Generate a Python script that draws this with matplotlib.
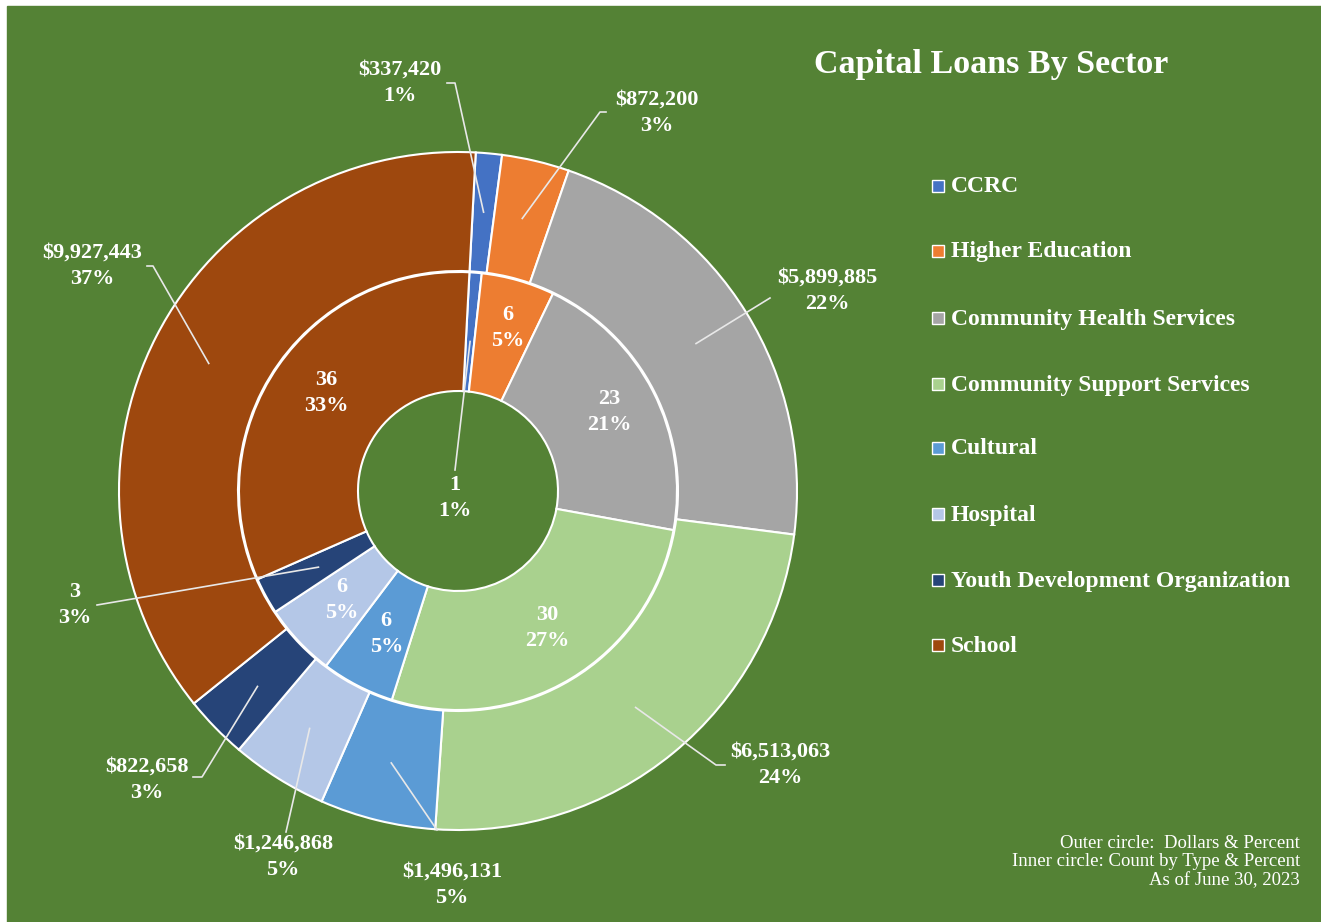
import numpy as np
import matplotlib
matplotlib.use("Agg")
import matplotlib.pyplot as plt
from matplotlib.patches import Rectangle

plt.rcParams['font.family'] = ['Liberation Serif', 'DejaVu Serif']

sectors = ["CCRC", "Higher Education", "Community Health Services",
           "Community Support Services", "Cultural", "Hospital",
           "Youth Development Organization", "School"]
dollars = [337420, 872200, 5899885, 6513063, 1496131, 1246868, 822658, 9927443]
dollar_pct = ["1%", "3%", "22%", "24%", "5%", "5%", "3%", "37%"]
counts = [1, 6, 23, 30, 6, 6, 3, 36]
count_pct = ["1%", "5%", "21%", "27%", "5%", "5%", "3%", "33%"]

colors = ["#4472C4", "#ED7D31", "#A5A5A5", "#A9D18E",
          "#5B9BD5", "#B4C7E7", "#264478", "#9E480E"]
bg = "#548235"

W, H = 1321, 922
cx, cy = 458, 491  # centre in pixel coords (y down)


def Y(y):
    return H - y


fig = plt.figure(figsize=(W / 100, H / 100), dpi=100, facecolor="white")
ax = fig.add_axes([0, 0, 1, 1])
ax.add_patch(Rectangle((7, 0), W - 7, H - 6, color=bg, zorder=0))

r_out, r_mid, r_in = 339, 219, 100
wp = dict(edgecolor="white", linewidth=1.5)
outer, _ = ax.pie(dollars, radius=r_out, center=(cx, Y(cy)), startangle=87,
                  counterclock=False, colors=colors,
                  wedgeprops=dict(width=r_out - r_mid - 1, **wp))
inner, _ = ax.pie(counts, radius=r_mid, center=(cx, Y(cy)), startangle=87,
                  counterclock=False, colors=colors,
                  wedgeprops=dict(width=r_mid - r_in, **wp))
ax.set_xlim(0, W)
ax.set_ylim(0, H)
ax.set_aspect("equal")
ax.axis("off")


def anchor(w, r):
    a = np.deg2rad((w.theta1 + w.theta2) / 2)
    return cx + r * np.cos(a), Y(cy) + r * np.sin(a)


lab = dict(color="white", fontsize=16, fontweight="bold",
           ha="center", va="center", linespacing=1.4)
line = dict(color="#e8e8e8", lw=1.2)

# outer labels: text centre, elbow points (pixel coords)
outer_pos = [(400, 83), (657, 113), (827, 291), (780, 765),
             (452, 885), (283, 857), (147, 780), (92, 266)]
outer_elbow = [[(447, 83), (455, 83)], [(606, 112), (600, 112)],
               [(770, 298)], [(725, 765), (716, 765)],
               [(437, 830)], [(286, 832)],
               [(193, 777), (202, 777)], [(147, 266), (153, 266)]]
for i, w in enumerate(outer):
    tx, ty = outer_pos[i]
    ax.text(tx, Y(ty), f"${dollars[i]:,}\n{dollar_pct[i]}", **lab)
    pts = [(x, Y(y)) for x, y in outer_elbow[i]] + [anchor(w, 280)]
    ax.plot([p[0] for p in pts], [p[1] for p in pts], **line)

# inner labels
for i, w in enumerate(inner):
    txt = f"{counts[i]}\n{count_pct[i]}"
    if i == 0:
        ax.text(455, Y(498), txt, **lab)
        a = anchor(w, 150)
        ax.plot([455, a[0]], [Y(470), a[1]], **line)
    elif i == 6:
        ax.text(75, Y(605), txt, **lab)
        a = anchor(w, 159)
        ax.plot([97, a[0]], [Y(605), a[1]], **line)
    else:
        x, y = anchor(w, 165)
        ax.text(x + 4, y + 4, txt, **lab)

ax.text(991, Y(65), "Capital Loans By Sector", color="white", fontsize=24.5,
        fontweight="bold", ha="center", va="center")

leg_y = [186, 251, 318, 384, 448, 514, 580, 645]
for i, s in enumerate(sectors):
    ax.add_patch(Rectangle((932, Y(leg_y[i]) - 6), 12, 12, facecolor=colors[i],
                           edgecolor="white", lw=1))
    ax.text(951, Y(leg_y[i]) - 1, s, color="white", fontsize=17, fontweight="bold",
            ha="left", va="center")

ax.text(1300, Y(862), "Outer circle:  Dollars & Percent\n"
        "Inner circle: Count by Type & Percent\nAs of June 30, 2023",
        color="white", fontsize=13.5, ha="right", va="center", linespacing=1.1)

fig.savefig("out.png", dpi=100, facecolor="white")
